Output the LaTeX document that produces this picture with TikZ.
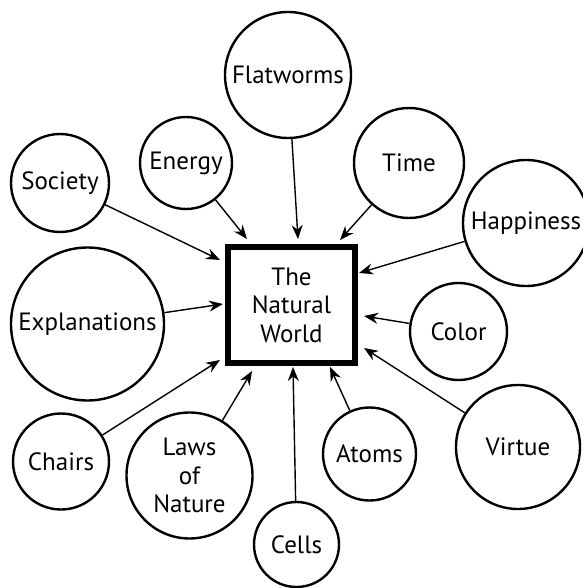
\documentclass[tikz,border=0pt]{standalone}
\usepackage{fontspec}
\setmainfont{PT Sans}
\usetikzlibrary{arrows.meta}
\begin{document}
\begin{tikzpicture}[x=1pt,y=-1pt,
    idea/.style={circle, draw, line width=2.4pt, inner sep=0pt, align=center,
      font=\fontsize{25}{28.5}\selectfont},
    world/.style={draw, line width=6pt, inner sep=0pt, minimum width=127pt,
      minimum height=116pt, align=center, font=\fontsize{25}{28.5}\selectfont},
    feeds/.style={-{Stealth[length=14pt,width=11pt]}, line width=1.4pt}]
      \useasboundingbox (0,0) rectangle (582,588);
      \node[world] (nw) at (291.5,305) {The\\Natural\\World};
      % the circles round the box
      \node[idea, minimum size=126pt] (flatworms) at (288,75) {Flatworms};
      \node[idea, minimum size=92pt] (energy) at (186,163) {Energy};
      \node[idea, minimum size=110pt] (time) at (409,163) {Time};
      \node[idea, minimum size=98pt] (society) at (60,183) {Society};
      \node[idea, minimum size=126pt] (happiness) at (526,223) {Happiness};
      \node[idea, minimum size=153pt] (explanations) at (87.5,324) {Explanations};
      \node[idea, minimum size=97pt] (color) at (458.5,331.5) {Color};
      \node[idea, minimum size=124pt] (virtue) at (518,447) {Virtue};
      \node[idea, minimum size=93pt] (atoms) at (369.5,454) {Atoms};
      \node[idea, minimum size=85pt] (cells) at (296.5,544.5) {Cells};
      \node[idea, minimum size=96pt] (chairs) at (61,461.5) {Chairs};
      \node[idea, minimum size=126pt] (laws) at (189.5,475.5) {Laws\\of\\Nature};
      % arrows into the box
      \draw[feeds] (flatworms) -- ([shift={(73,-5)}]nw.north west);
      \draw[feeds] (energy) -- ([shift={(22,-5)}]nw.north west);
      \draw[feeds] (society) -- ([shift={(-5,16)}]nw.north west);
      \draw[feeds] (time) -- ([shift={(115,-4)}]nw.north west);
      \draw[feeds] (happiness) -- ([shift={(1,29)}]nw.north east);
      \draw[feeds] (explanations) -- ([shift={(-2,60)}]nw.north west);
      \draw[feeds] (chairs) -- ([shift={(-5,-6)}]nw.south west);
      \draw[feeds] (laws) -- ([shift={(27,5)}]nw.south west);
      \draw[feeds] (cells) -- ([shift={(68,1)}]nw.south west);
      \draw[feeds] (atoms) -- ([shift={(105,1)}]nw.south west);
      \draw[feeds] (color) -- ([shift={(6,72)}]nw.north east);
      \draw[feeds] (virtue) -- ([shift={(6,104)}]nw.north east);
    \end{tikzpicture}
\end{document}
